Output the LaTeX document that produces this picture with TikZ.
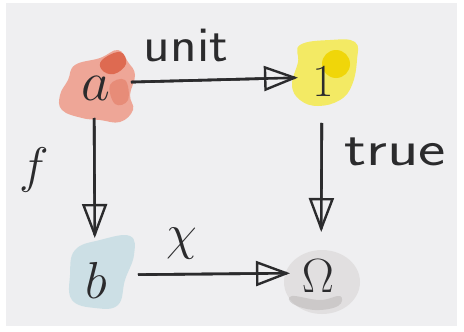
\RequirePackage{fix-cm}
\documentclass[tikz,border=0pt]{standalone}
\usetikzlibrary{arrows.meta}
\definecolor{paper}{HTML}{EFEFF1}
\definecolor{ink}{HTML}{2B2B2D}
\definecolor{redw}{HTML}{EE9A88}
\definecolor{redd}{HTML}{DA5C40}
\definecolor{yelw}{HTML}{F4EA55}
\definecolor{yeld}{HTML}{F0D400}
\definecolor{bluew}{HTML}{C9DEE4}
\definecolor{greyw}{HTML}{DEDCDC}
\definecolor{greyd}{HTML}{B8B4B4}
\begin{document}
\begin{tikzpicture}[x=1pt,y=-1pt,
  obj/.style={text=ink,inner sep=0pt},
  lbl/.style={text=ink,font=\sffamily\fontsize{50}{52}\selectfont,inner sep=0pt},
  arr/.style={draw=ink,line width=2.6pt,-{Triangle[open,length=34pt,width=25pt,line width=2.4pt]}},
  shaft/.style={draw=ink,line width=2.6pt}]
\useasboundingbox (0,0) rectangle (464,332);
\fill[white] (0,0) rectangle (464,332);
\fill[paper] (6,3) rectangle (457,326);
% watercolour blobs
\fill[redw,opacity=0.85] plot[smooth cycle,tension=0.7] coordinates {(75,65) (100,58) (118,50) (128,62) (135,75) (130,95) (133,110) (120,122) (100,120) (82,118) (62,110) (60,95) (68,80)};
\fill[redd,opacity=0.8] plot[smooth cycle,tension=0.7] coordinates {(102,60) (120,52) (126,64) (114,74) (102,70)};
\fill[redd,opacity=0.35] plot[smooth cycle,tension=0.7] coordinates {(110,85) (125,80) (128,100) (115,104)};
\fill[yelw,opacity=0.9] plot[smooth cycle,tension=0.7] coordinates {(300,45) (330,40) (355,42) (357,60) (352,85) (340,100) (318,106) (300,100) (292,85) (298,62)};
\fill[yeld,opacity=0.9] (336,64) circle (14);
\fill[bluew,opacity=0.9] plot[smooth cycle,tension=0.7] coordinates {(75,250) (100,240) (130,236) (134,255) (125,280) (118,305) (95,308) (72,300) (70,275)};
\fill[greyw,opacity=0.8] (322,282) ellipse (38 and 32);
\fill[greyd,opacity=0.5] plot[smooth cycle,tension=0.7] coordinates {(292,296) (320,300) (340,296) (338,306) (315,310) (293,304)};
% objects
\node[obj,font=\fontsize{56}{58}\selectfont] (a) at (96,88) {$a$};
\node[obj,font=\fontsize{46}{48}\selectfont] (one) at (323,82) {$1$};
\node[obj,font=\fontsize{52}{54}\selectfont] (b) at (96,280) {$b$};
\node[obj,font=\fontsize{48}{50}\selectfont] (om) at (318,276) {$\Omega$};
% arrows
\draw[arr,shorten <=35pt,shorten >=25pt] ([yshift=5pt]a.center) -- ([yshift=5pt]one.center);
\draw[shaft,shorten <=35pt,shorten >=28pt] ([yshift=5pt]a.center) -- ([yshift=5pt]one.center);
\draw[arr,shorten <=30pt,shorten >=42pt] ([xshift=-2pt]a.center) -- ([xshift=-1pt]b.center);
\draw[shaft,shorten <=30pt,shorten >=45pt] ([xshift=-2pt]a.center) -- ([xshift=-1pt]b.center);
\draw[arr,shorten <=41pt,shorten >=44pt] ([xshift=-1pt]one.center) -- ([xshift=3pt]om.center);
\draw[shaft,shorten <=41pt,shorten >=47pt] ([xshift=-1pt]one.center) -- ([xshift=3pt]om.center);
\draw[arr,shorten <=42pt,shorten >=28pt] ([yshift=5pt]b.center) -- ([yshift=3pt]om.center);
\draw[shaft,shorten <=42pt,shorten >=31pt] ([yshift=5pt]b.center) -- ([yshift=3pt]om.center);
% labels
\node[lbl] (lunit) at (186,45) {\scalebox{1.1}[1]{unit}};
\node[lbl] (ltrue) at (395,152) {\scalebox{1.3}[1]{true}};
\node[lbl] (lf) at (34,170) {$f$};
\node[lbl] (lchi) at (182,244) {$\chi$};
\end{tikzpicture}
\end{document}
